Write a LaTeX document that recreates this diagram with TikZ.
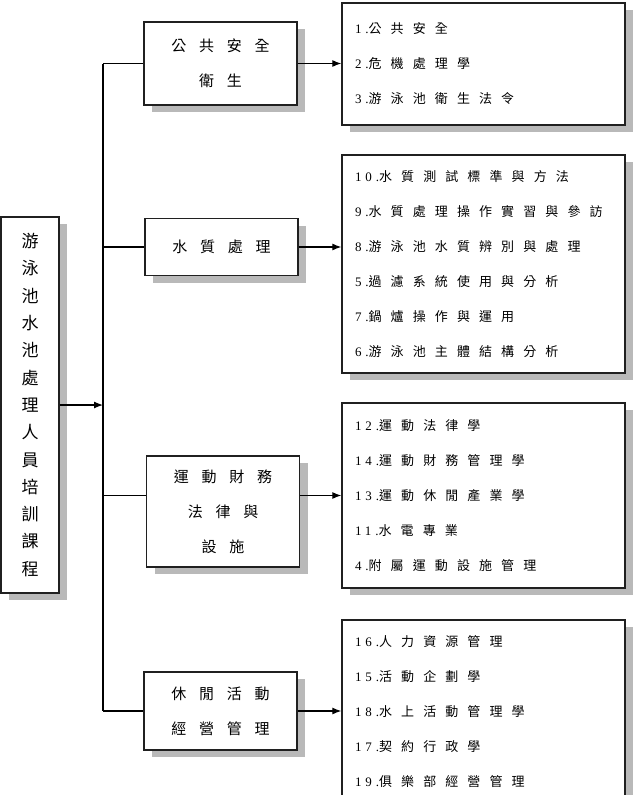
\documentclass[tikz,border=0pt]{standalone}
\usepackage{fontspec}
\setmainfont{Liberation Serif}[LetterSpace=30]
\newfontfamily\cjk[LetterSpace=70]{Noto Sans CJK TC}
\newfontfamily\cjkbox[LetterSpace=85]{Noto Sans CJK TC}
\newfontfamily\cjktall{Noto Sans CJK TC}
\usetikzlibrary{arrows.meta,positioning,shadows}

\begin{document}
\begin{tikzpicture}[x=1pt, y=-1pt,
  box/.style={draw=gray!25!black, line width=1.3pt, fill=white, inner sep=0pt,
    drop shadow={shadow xshift=8pt, shadow yshift=-7pt, fill=gray!55, opacity=1}},
  topic/.style={box, minimum width=153pt, align=center, font=\fontsize{15}{35}\cjkbox},
  course/.style={box, minimum width=58pt, minimum height=376pt, align=center,
    font=\fontsize{17}{27.3}\cjktall},
  list/.style={box, minimum width=283pt, text width=257pt, inner xsep=13pt,
    align=left, font=\fontsize{13}{35}\selectfont},
  link/.style={line width=1.2pt},
  arr/.style={link, -{Latex[length=9pt, width=7pt]}}]

\useasboundingbox (0,0) rectangle (640,795);

% Main course box
\node[course] (course) at (30,405) {游\\泳\\池\\水\\池\\處\\理\\人\\員\\培\\訓\\課\\程};
\coordinate (trunk) at (103,405);

% Topic boxes
\node[topic, minimum height=83pt] (b1) at (220.5,63.5) {公共安全\\衛生};
\node[topic, minimum height=57pt] (b2) at (221.5,247) {水質處理};
\node[topic, minimum height=111pt] (b3) at (223,511.5) {運動財務\\法律與\\設施};
\node[topic, minimum height=78pt] (b4) at (220.5,711) {休閒活動\\經營管理};

% Course lists
\node[list, minimum height=122pt] (l1) at (483.5,64) {%
  1.{\cjk 公共安全}\\
  2.{\cjk 危機處理學}\\
  3.{\cjk 游泳池衛生法令}};
\node[list, minimum height=218pt] (l2) at (483.5,264) {%
  10.{\cjk 水質測試標準與方法}\\
  9.{\cjk 水質處理操作實習與參訪}\\
  8.{\cjk 游泳池水質辨別與處理}\\
  5.{\cjk 過濾系統使用與分析}\\
  7.{\cjk 鍋爐操作與運用}\\
  6.{\cjk 游泳池主體結構分析}};
\node[list, minimum height=185pt] (l3) at (483.5,495.5) {%
  12.{\cjk 運動法律學}\\
  14.{\cjk 運動財務管理學}\\
  13.{\cjk 運動休閒產業學}\\
  11.{\cjk 水電專業}\\
  4.{\cjk 附屬運動設施管理}};
\node[list, minimum height=184pt] (l4) at (483.5,712) {%
  16.{\cjk 人力資源管理}\\
  15.{\cjk 活動企劃學}\\
  18.{\cjk 水上活動管理學}\\
  17.{\cjk 契約行政學}\\
  19.{\cjk 俱樂部經營管理}};

% Trunk and branches
\draw[arr] (course.east) -- (trunk |- course.east);
\draw[link] (trunk |- b1.west) -- (trunk |- b4.west);
\draw[link] (trunk |- b1.west) -- (b1.west);
\draw[link] (trunk |- b2.west) -- (b2.west);
\draw[link] (trunk |- l3.west) -- (b3.west |- l3.west);
\draw[link] (trunk |- b4.west) -- (b4.west);

% Arrows to lists
\draw[arr] (b1.east) -- (b1.east -| l1.west);
\draw[arr] (b2.east) -- (b2.east -| l2.west);
\draw[arr] (b3.east |- l3.west) -- (l3.west);
\draw[arr] (b4.east) -- (b4.east -| l4.west);
\end{tikzpicture}
\end{document}
